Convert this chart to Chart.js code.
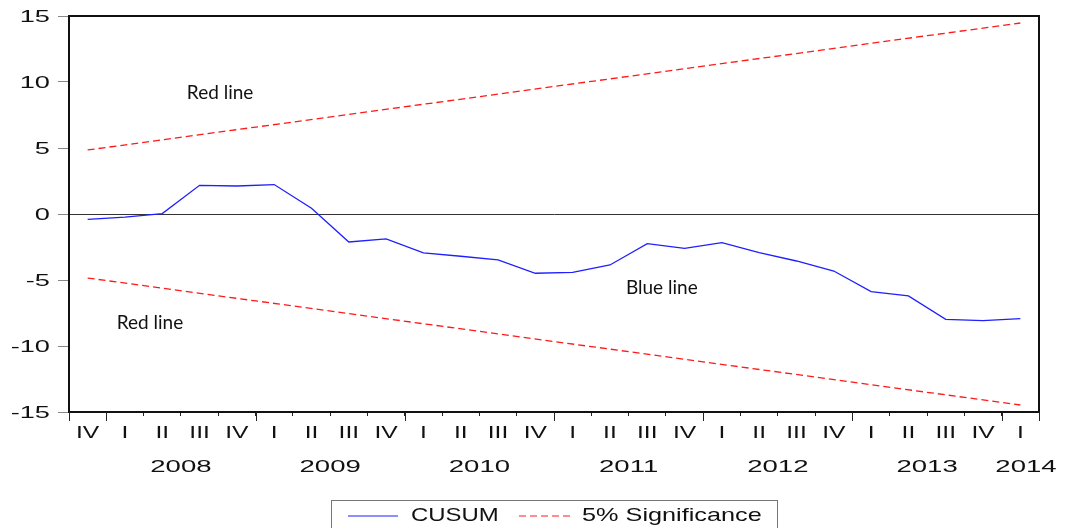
<!DOCTYPE html>
<html>
<head>
<meta charset="utf-8">
<script src="https://cdn.jsdelivr.net/npm/chart.js@4.4.1/dist/chart.umd.min.js"></script>
<style>
  html, body { margin: 0; padding: 0; background: #fff; }
</style>
</head>
<body>
<canvas id="cusumChart" width="1072" height="528"></canvas>
<script>
// quarters from 2007Q4 to 2014Q1
var quarters = ['IV','I','II','III','IV','I','II','III','IV','I','II','III','IV',
                'I','II','III','IV','I','II','III','IV','I','II','III','IV','I'];
var years    = ['2008','2009','2010','2011','2012','2013','2014'];
var yearAt   = [2.5, 6.5, 10.5, 14.5, 18.5, 22.5, 25.15];   // category index under which the year sits

var cusum = [-0.40, -0.23, 0.03, 2.17, 2.12, 2.23, 0.43, -2.12, -1.89, -2.95, -3.20, -3.48, -4.49,
             -4.42, -3.86, -2.24, -2.60, -2.17, -2.93, -3.56, -4.32, -5.88, -6.21, -7.98, -8.08, -7.92];
// 5% bands are straight lines: only the end values, gaps spanned
var upperBand = [4.85, null, null, null, null, null, null, null, null, null, null, null, null,
                 null, null, null, null, null, null, null, null, null, null, null, null, 14.47];
var lowerBand = [-4.85, null, null, null, null, null, null, null, null, null, null, null, null,
                 null, null, null, null, null, null, null, null, null, null, null, null, -14.47];
var yTicks = [-15, -10, -5, 0, 5, 10, 15];

var notes = [
  { text: 'Red line',  x: 3.55,  y: 9.2 },
  { text: 'Red line',  x: 1.67,  y: -8.23 },
  { text: 'Blue line', x: 15.39, y: -5.63 }
];

var AXIS_FONT = '17px "Liberation Sans", Arial, sans-serif';

function wideText(ctx, str, x, y, align, stretch) {
  ctx.save();
  ctx.translate(x, y);
  ctx.scale(stretch, 1);
  ctx.textAlign = align;
  ctx.textBaseline = 'middle';
  ctx.fillText(str, 0, 0);
  ctx.restore();
}

var eviewsLook = {
  id: 'eviewsLook',
  afterDraw: function (chart) {
    var ctx = chart.ctx, a = chart.chartArea;
    var xs = chart.scales.x, ys = chart.scales.y;
    ctx.save();

    // frame top + right
    ctx.strokeStyle = '#111';
    ctx.lineWidth = 2;
    ctx.beginPath();
    ctx.moveTo(a.left, a.top);
    ctx.lineTo(a.right, a.top);
    ctx.lineTo(a.right, a.bottom);
    ctx.stroke();

    // longer ticks at year boundaries
    ctx.strokeStyle = '#222';
    ctx.lineWidth = 1;
    ctx.beginPath();
    var bounds = [-0.5, quarters.length - 0.5];
    quarters.forEach(function (q, i) { if (q === 'I') bounds.push(i - 0.5); });
    bounds.forEach(function (b) {
      var px = Math.round(xs.getPixelForValue(b)) + 0.5;
      ctx.moveTo(px, a.bottom);
      ctx.lineTo(px, a.bottom + 9);
    });
    ctx.stroke();

    // tick labels, drawn wide like the original
    ctx.fillStyle = '#111';
    ctx.font = AXIS_FONT;
    yTicks.forEach(function (v) {
      wideText(ctx, String(v), a.left - 19, ys.getPixelForValue(v) + 1, 'right', 1.6);
    });
    quarters.forEach(function (q, i) {
      wideText(ctx, q, xs.getPixelForValue(i), a.bottom + 21, 'center', 1.45);
    });
    years.forEach(function (yr, i) {
      wideText(ctx, yr, xs.getPixelForValue(yearAt[i]), a.bottom + 55, 'center', 1.62);
    });

    // text notes
    ctx.font = '19px Lato, "Open Sans", sans-serif';
    ctx.textAlign = 'center';
    ctx.textBaseline = 'middle';
    notes.forEach(function (n) {
      ctx.fillText(n.text, xs.getPixelForValue(n.x), ys.getPixelForValue(n.y));
    });

    // legend box
    var cx = (a.left + a.right) / 2, top = a.bottom + 88;
    ctx.strokeStyle = '#777';
    ctx.lineWidth = 1;
    ctx.strokeRect(Math.round(cx - 223) + 0.5, top + 0.5, 446, 60);
    var ly = top + 16;
    var ds = chart.data.datasets;
    ctx.lineWidth = 1.2;
    ctx.strokeStyle = ds[0].borderColor;
    ctx.beginPath(); ctx.moveTo(cx - 206, ly); ctx.lineTo(cx - 156, ly); ctx.stroke();
    ctx.strokeStyle = ds[1].borderColor;
    ctx.setLineDash(ds[1].borderDash);
    ctx.beginPath(); ctx.moveTo(cx - 35, ly); ctx.lineTo(cx + 17, ly); ctx.stroke();
    ctx.setLineDash([]);
    ctx.fillStyle = '#111';
    ctx.font = '19px "Liberation Sans", Arial, sans-serif';
    wideText(ctx, ds[0].label, cx - 143, ly, 'left', 1.26);
    wideText(ctx, ds[1].label, cx + 28, ly, 'left', 1.33);

    ctx.restore();
  }
};

new Chart(document.getElementById('cusumChart').getContext('2d'), {
  type: 'line',
  data: {
    labels: quarters,
    datasets: [
      { label: 'CUSUM', data: cusum, borderColor: '#1f1fff', borderWidth: 1.3,
        pointRadius: 0, tension: 0, fill: false },
      { label: '5% Significance', data: upperBand, borderColor: '#ff1a1a', borderWidth: 1.3,
        borderDash: [7, 4], pointRadius: 0, spanGaps: true, fill: false },
      { label: '5% Significance', data: lowerBand, borderColor: '#ff1a1a', borderWidth: 1.3,
        borderDash: [7, 4], pointRadius: 0, spanGaps: true, fill: false }
    ]
  },
  options: {
    responsive: false,
    animation: false,
    layout: { padding: { top: 16, right: 33, left: 0, bottom: 0 } },
    plugins: { legend: { display: false }, tooltip: { enabled: false } },
    scales: {
      x: {
        type: 'category',
        offset: true,
        afterFit: function (s) { s.height = 116; },
        ticks: { display: false, autoSkip: false },
        grid: { offset: true, drawOnChartArea: false, tickLength: 4, tickColor: '#222' },
        border: { color: '#111', width: 2 }
      },
      y: {
        min: -15,
        max: 15,
        afterFit: function (s) { s.width = 69; },
        ticks: { display: false, stepSize: 5 },
        grid: {
          tickLength: 11,
          tickColor: '#888',
          color: function (c) { return c.tick && c.tick.value === 0 ? '#333' : 'rgba(0,0,0,0)'; }
        },
        border: { color: '#111', width: 2 }
      }
    }
  },
  plugins: [eviewsLook]
});
</script>
</body>
</html>
